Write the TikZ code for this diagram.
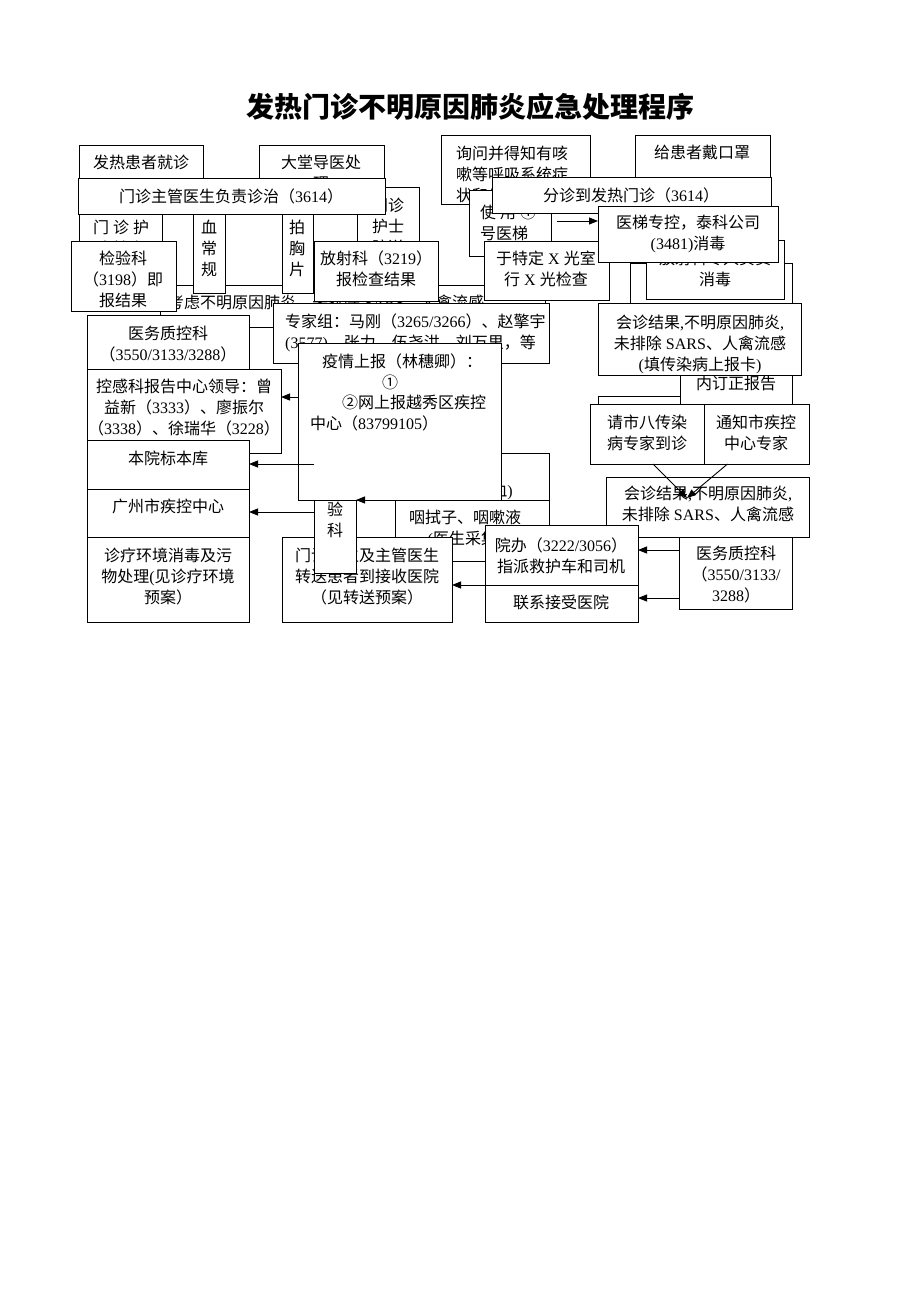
\documentclass[tikz,border=0pt]{standalone}
\usepackage{fontspec}
\setmainfont{Liberation Serif}
\newfontfamily\cjk{Noto Sans CJK SC}
\usetikzlibrary{arrows.meta,calc}
\XeTeXinterchartokenstate=1
\newXeTeXintercharclass\CJKcl
\newcount\mycc
\def\setcls#1#2{\mycc=#1 \loop\XeTeXcharclass\mycc=\CJKcl \advance\mycc by 1 \ifnum\mycc<#2 \repeat}
\setcls{"3000}{"3040}
\setcls{"4E00}{"A000}
\setcls{"FF00}{"FFF0}
\setcls{"2460}{"2474}
\XeTeXinterchartoks 0 \CJKcl = {\cjk}
\XeTeXinterchartoks 4095 \CJKcl = {\cjk}
\XeTeXinterchartoks \CJKcl 0 = {\rmfamily}
\XeTeXinterchartoks \CJKcl 4095 = {\rmfamily}
\tikzset{
 bxs/.style={draw, line width=0.9pt, fill=white, inner sep=0pt, outer sep=0pt},
 txt/.style={font=\fontsize{16}{21}\selectfont, inner sep=0pt},
 ttl/.style={font=\fontsize{28}{32}\selectfont\bfseries, inner sep=0pt},
 arr/.style={line width=0.9pt, -{Triangle[length=9pt,width=7pt]}},
 ln/.style={line width=0.9pt}
}
\newcommand\tlines[5]{\foreach \L [count=\i] in {#5} {\node[txt, anchor=#2] (#1-\i) at ({#3},{#4+6+21*(\i-1)}) {\L};}}
\newcommand\mybox[6]{\node[bxs, minimum width={(#4-#2)*1pt}, minimum height={(#5-#3)*1pt}, anchor=north west] (#1) at (#2,#3) {};
 \begin{scope}\clip (#2,#3) rectangle (#4,#5); #6\end{scope}}
\begin{document}
\begin{tikzpicture}[x=1pt,y=-1pt]
\fill[white] (0,0) rectangle (920,1302);
\useasboundingbox (0,0) rectangle (920,1302);
\node[ttl, anchor=base] (title) at (470,117) {发热门诊不明原因肺炎应急处理程序};
% top row
\mybox{fare}{79}{145}{203}{200}{\tlines{fareT}{base}{141}{162}{{发热患者就诊}}}
\mybox{datang}{259}{145}{384}{200}{\tlines{datangT}{base}{321}{162}{{大堂导医处},{理}}}
\mybox{huR}{357}{187}{419}{262}{\tlines{huRT}{base}{388}{205}{{门诊},{护士},{陪送}}}
\mybox{xunwen}{441}{135}{590}{204}{\tlines{xunwenT}{base west}{456}{153}{{询问并得知有咳},{嗽等呼吸系统症},{状和体温升高}}}
\mybox{kouzhao}{635}{135}{770}{190}{\tlines{kouzhaoT}{base}{702}{152}{{给患者戴口罩}}}
\mybox{shiyong}{469}{190}{551}{256}{\tlines{shiyongT}{base west}{480}{212}{{使\ 用\ ①},{号医梯}}}
\mybox{fenzhen}{492}{177}{771}{213}{\tlines{fenzhenT}{base}{631}{195}{{分诊到发热门诊（3614）}}}
\mybox{kaolv}{160}{285}{545}{327}{\tlines{kaolvT}{base west}{168}{302}{{考虑不明原因肺炎，未排除 SARS、人禽流感}}}
\mybox{xuechang}{193}{205}{225}{293}{\tlines{xuechangT}{base}{209}{227}{{血},{常},{规}}}
\mybox{paixiong}{282}{205}{313}{293}{\tlines{paixiongT}{base}{297}{227}{{拍},{胸},{片}}}
\mybox{huL}{79}{214}{162}{275}{\tlines{huLT}{base}{121}{227}{{门\ 诊\ 护},{士抽血}}}
\mybox{zhuguan}{78}{178}{385}{214}{\tlines{zhuguanT}{base}{231}{196}{{门诊主管医生负责诊治（3614）}}}
\mybox{jianyan}{71}{241}{176}{311}{\tlines{jianyanT}{base}{123}{258}{{检验科},{（3198）即},{报结果}}}
\mybox{fangshe}{314}{241}{438}{301}{\tlines{fangsheT}{base}{376}{258}{{放射科（3219）},{报检查结果}}}
\mybox{xguang}{484}{241}{609}{300}{\tlines{xguangT}{base}{546}{258}{{于特定 X 光室},{行 X 光检查}}}
\mybox{bgP}{630}{263}{792}{340}{}
\mybox{xiaodu}{646}{240}{784}{299}{\tlines{xiaoduT}{base}{715}{258}{{放射科专人负责},{消毒}}}
\mybox{yiti}{598}{206}{778}{262}{\tlines{yitiT}{base}{688}{222}{{医梯专控，泰科公司},{(3481)消毒}}}
\coordinate (a1) at (557,221);
\draw[arr] (a1) -- (a1 -| yiti.west);
% left column
\mybox{yiwuL}{87}{315}{249}{369}{\tlines{yiwuLT}{base}{168}{333}{{医务质控科},{（3550/3133/3288）}}}
\mybox{zhuanjia}{273}{303}{549}{363}{\tlines{zhuanjiaT}{base west}{285}{321}{{专家组：马刚（3265/3266）、赵擎宇},{(3577)、张力、伍尧洪、刘万里，等}}}
\mybox{kong}{87}{369}{281}{453}{\tlines{kongT}{base}{184}{386}{{控感科报告中心领导：曾},{益新（3333）、廖振尔},{（3338）、徐瑞华（3228）}}}
\mybox{benyuan}{87}{440}{249}{489}{\tlines{benyuanT}{base}{168}{458}{{本院标本库}}}
\mybox{gz}{87}{489}{249}{537}{\tlines{gzT}{base}{168}{506}{{广州市疾控中心}}}
\mybox{zhenliao}{87}{537}{249}{622}{\tlines{zhenliaoT}{base}{168}{555}{{诊疗环境消毒及污},{物处理(见诊疗环境},{预案）}}}
% middle
\mybox{chouxue}{400}{453}{549}{500}{\node[txt, anchor=base east] (chouxueT) at (513,496) {(护士抽血)};}
\mybox{yanshi}{395}{500}{549}{561}{\tlines{yanshiT}{base}{465}{517}{{咽拭子、咽嗽液},{(医生采集)}}}
\mybox{zhuansong}{282}{537}{452}{622}{\tlines{zhuansongT}{base}{367}{555}{{门诊医生及主管医生},{转送患者到接收医院},{（见转送预案）}}}
\mybox{yanke}{314}{460}{356}{573}{\tlines{yankeT}{base}{335}{488}{{检},{验},{科}}}
\mybox{yiqing}{298}{343}{501}{500}{
 \node[txt, anchor=base west] (yq1) at (322,367) {疫情上报（林穗卿）：};
 \node[txt, anchor=base] (yq2) at (390,388) {①};
 \node[txt, anchor=base west] (yq3) at (342,408) {②网上报越秀区疾控};
 \node[txt, anchor=base west] (yq4) at (310,429) {中心（83799105）};}
\coordinate (c1) at (298,397);
\draw[arr] (c1) -- (c1 -| kong.east);
\coordinate (c2) at (314,464);
\draw[arr] (c2) -- (c2 -| benyuan.east);
\coordinate (c3) at (314,512);
\draw[arr] (c3) -- (c3 -| gz.east);
\coordinate (c4) at (395,500);
\draw[arr] (c4) -- (c4 -| yanke.east);
% right side
\mybox{bgB}{598}{396}{700}{450}{}
\mybox{dingzheng}{680}{360}{792}{405}{\tlines{dingzhengT}{base}{736}{383}{{内订正报告}}}
\mybox{huizhen1}{598}{303}{801}{375}{\tlines{huizhen1T}{base}{700}{322}{{会诊结果,不明原因肺炎,},{未排除 SARS、人禽流感},{(填传染病上报卡)}}}
\mybox{qingshi}{590}{404}{704}{464}{\tlines{qingshiT}{base}{647}{422}{{请市八传染},{病专家到诊}}}
\mybox{tongzhi}{704}{404}{809}{464}{\tlines{tongzhiT}{base}{756}{422}{{通知市疾控},{中心专家}}}
\mybox{huizhen2}{606}{477}{809}{537}{\tlines{huizhen2T}{base}{708}{493}{{会诊结果,不明原因肺炎,},{未排除 SARS、人禽流感}}}
\coordinate (m) at (687,498);
\draw[arr] ([xshift=6pt]qingshi.south) -- (m);
\draw[arr] ([xshift=-29pt]tongzhi.south) -- (m);
\mybox{yiwuR}{679}{537}{792}{609}{\tlines{yiwuRT}{base}{736}{553}{{医务质控科},{（3550/3133/},{3288）}}}
\mybox{yuanban}{485}{525}{638}{585}{\tlines{yuanbanT}{base}{561}{545}{{院办（3222/3056）},{指派救护车和司机}}}
\mybox{lianxi}{485}{585}{638}{622}{\tlines{lianxiT}{base}{561}{602}{{联系接受医院}}}
\coordinate (r1) at (679,550);
\draw[arr] (r1) -- (r1 -| yuanban.east);
\coordinate (r2) at (679,598);
\draw[arr] (r2) -- (r2 -| lianxi.east);
\coordinate (r3) at (485,585);
\draw[arr] (r3) -- (r3 -| zhuansong.east);
\end{tikzpicture}
\end{document}
